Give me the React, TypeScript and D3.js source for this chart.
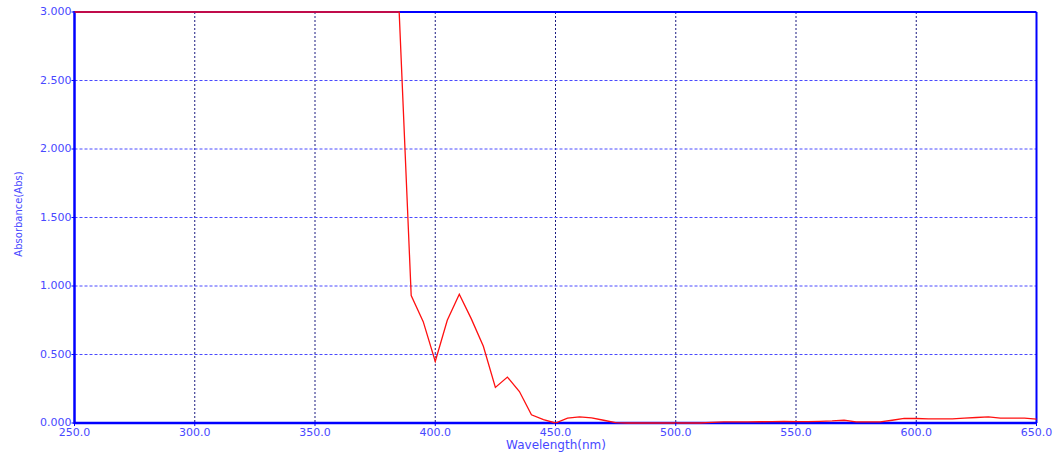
import React from "react";
import * as d3 from "d3";

const wavelengths = [250, 385, 390, 395, 400, 405, 410, 415, 420, 425, 430, 435, 440, 445, 450, 455, 460, 465, 470, 475, 480, 485, 490, 495, 500, 505, 510, 515, 520, 525, 530, 535, 540, 545, 550, 555, 560, 565, 570, 575, 580, 585, 590, 595, 600, 605, 610, 615, 620, 625, 630, 635, 640, 645, 650];
const absorbance = [3.0, 3.0, 0.93, 0.74, 0.45, 0.75, 0.94, 0.76, 0.56, 0.26, 0.335, 0.23, 0.06, 0.025, 0.0, 0.035, 0.045, 0.038, 0.02, 0.003, 0, 0, 0, 0, 0, 0, 0, 0.005, 0.008, 0.008, 0.008, 0.009, 0.01, 0.012, 0.01, 0.01, 0.012, 0.015, 0.02, 0.008, 0.008, 0.008, 0.02, 0.033, 0.033, 0.03, 0.03, 0.03, 0.035, 0.04, 0.045, 0.035, 0.035, 0.035, 0.028];
const xTicks = [250, 300, 350, 400, 450, 500, 550, 600, 650];
const yTicks = [0, 0.5, 1.0, 1.5, 2.0, 2.5, 3.0];
const xTitle = "Wavelength(nm)";
const yTitle = "Absorbance(Abs)";

export default function App() {
  const W = 1054, H = 452;
  const left = 74.5, right = 1036.5, top = 12, bottom = 423;
  const x = d3.scaleLinear().domain([250, 650]).range([left, right]);
  const y = d3.scaleLinear().domain([0, 3]).range([bottom, top]);
  const pts: [number, number][] = wavelengths.map((w, i) => [w, absorbance[i]]);
  const line = d3.line<[number, number]>().x(d => x(d[0])).y(d => y(d[1]));
  const font = "'DejaVu Sans', sans-serif";
  const txt = "#4848ff";
  return (
    <svg width={W} height={H} style={{ position: "absolute", left: 0, top: 0, background: "#fff" }}>
      {xTicks.slice(1, -1).map(t => (
        <line key={"vx" + t} x1={x(t)} x2={x(t)} y1={top} y2={bottom} stroke="#1a1a80" strokeWidth={1} strokeDasharray="2 2" />
      ))}
      {yTicks.slice(1, -1).map(t => (
        <line key={"hy" + t} x1={left} x2={right} y1={y(t)} y2={y(t)} stroke="#4a4aff" strokeWidth={1} strokeDasharray="3 2" />
      ))}
      <line x1={left} x2={right} y1={top} y2={top} stroke="#0000ff" strokeWidth={2} />
      <line x1={right} x2={right} y1={top} y2={bottom} stroke="#0000ff" strokeWidth={2} />
      <line x1={left} x2={left} y1={top - 1} y2={bottom + 1} stroke="#0000ff" strokeWidth={2.5} />
      <line x1={left} x2={right} y1={bottom} y2={bottom} stroke="#0000ff" strokeWidth={2.5} />
      <path d={line(pts) || ""} fill="none" stroke="#ff1010" strokeWidth={1.3} />
      {xTicks.map(t => (
        <line key={"tx" + t} x1={x(t)} x2={x(t)} y1={bottom} y2={bottom + 3} stroke="#0000ff" strokeWidth={1} />
      ))}
      {yTicks.map(t => (
        <line key={"ty" + t} x1={left - 3} x2={left} y1={y(t)} y2={y(t)} stroke="#0000ff" strokeWidth={1} />
      ))}
      {yTicks.map(t => (
        <text key={"ly" + t} x={left - 3} y={y(t)} dy="0.3em" textAnchor="end" fontFamily={font} fontSize={11} fill={txt}>
          {t.toFixed(3)}
        </text>
      ))}
      {xTicks.map(t => (
        <text key={"lx" + t} x={x(t)} y={bottom + 13} textAnchor="middle" fontFamily={font} fontSize={11} fill={txt}>
          {t.toFixed(1)}
        </text>
      ))}
      <text x={556} y={449} textAnchor="middle" fontFamily={font} fontSize={12} fill={txt}>{xTitle}</text>
      <text transform="translate(22,214) rotate(-90)" textAnchor="middle" fontFamily={font} fontSize={10} fill={txt}>{yTitle}</text>
    </svg>
  );
}
